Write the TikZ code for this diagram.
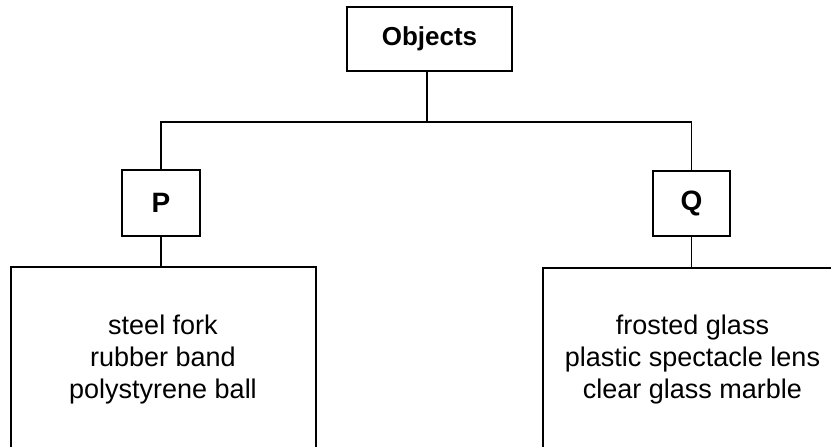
\documentclass[tikz,border=0pt]{standalone}
\usepackage{fontspec}
\setmainfont{Liberation Sans}
\begin{document}
\begin{tikzpicture}[x=1pt, y=-1pt, line width=1.7pt,
  box/.style={draw, line width=1.7pt, inner sep=0pt},
  head/.style={box, font=\fontsize{26}{30}\selectfont\bfseries},
  letter/.style={box, font=\fontsize{28}{32}\selectfont\bfseries},
  list/.style={align=center, inner sep=0pt, font=\fontsize{27}{32}\selectfont}]
\useasboundingbox (0,0) rectangle (831,447);
\clip (0,0) rectangle (831,447);

% headings
\node[head, minimum width=165pt, minimum height=64pt] (obj) at (429.5,39) {Objects};
\node[letter, minimum width=78pt, minimum height=66pt] (p) at (161,203) {P};
\node[letter, minimum width=77pt, minimum height=65pt] (q) at (691.5,203.3) {Q};

% the two lists (their boxes run on below the page edge)
\node[box, minimum width=305pt, minimum height=220pt, anchor=north] (left) at (163.5,266) {};
\node[box, minimum width=300pt, minimum height=220pt, anchor=north west] (right) at (542,267) {};
\node[list] (ltext) at (163,360) {steel fork\\rubber band\\polystyrene ball};
\node[list] (rtext) at (692.5,360) {frosted glass\\plastic spectacle lens\\clear glass marble};

% branching connectors
\coordinate (jm) at (427,122);
\draw (jm |- obj.south) -- (jm);
\draw (p.north) |- (jm) -| (q.north);
\draw (p.south) -- (p.south |- left.north);
\draw (q.south) -- (q.south |- right.north);
\end{tikzpicture}
\end{document}
